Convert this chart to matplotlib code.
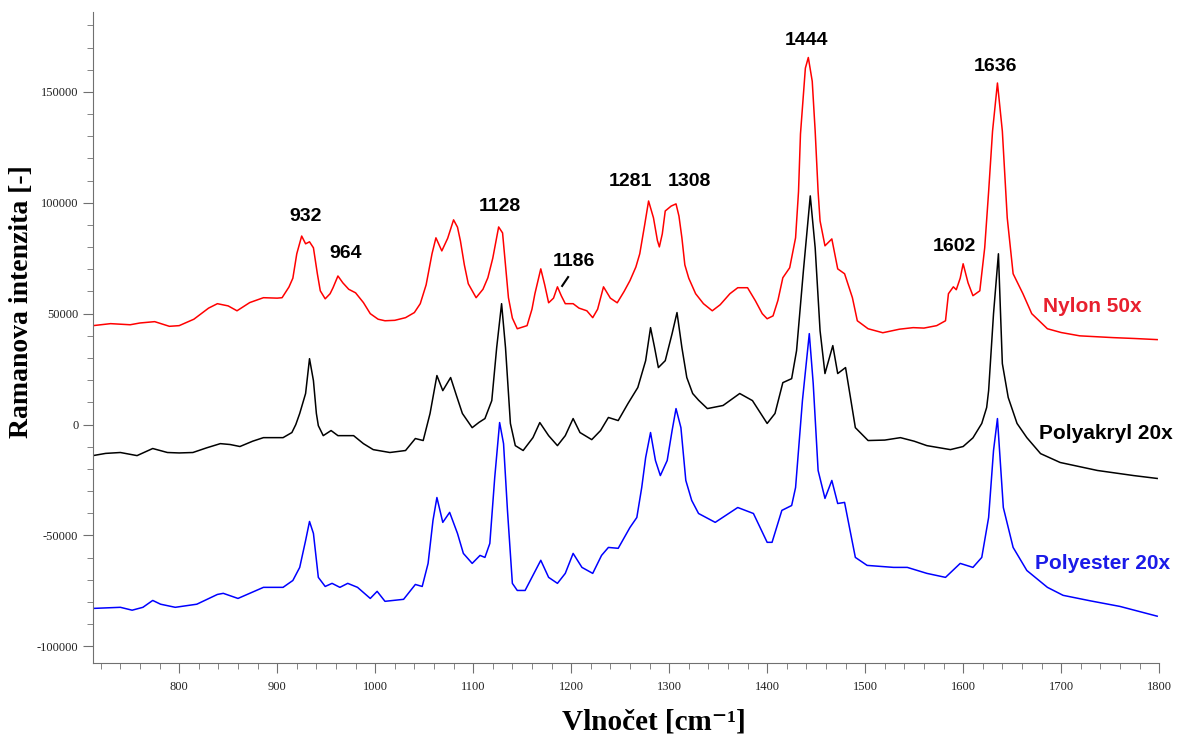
import matplotlib
matplotlib.use('Agg')
import matplotlib.pyplot as plt
from matplotlib.ticker import MultipleLocator

# wavenumber / intensity pairs
nylon_wn = [712, 730, 750, 760, 775, 790, 800, 815, 830, 839, 850, 859, 872, 886, 900, 905,
            912, 916, 920, 925, 929, 933, 937, 941, 944, 949, 954, 957, 962, 967, 973, 980,
            988, 995, 1003, 1010, 1020, 1031, 1040, 1046, 1052, 1058, 1062, 1068, 1074, 1080,
            1084, 1087, 1091, 1095, 1103, 1110, 1115, 1120, 1126, 1130, 1133, 1136, 1140, 1145,
            1155, 1160, 1163, 1169, 1173, 1177, 1182, 1186, 1190, 1194, 1202, 1208, 1216, 1222,
            1227, 1233, 1240, 1247, 1254, 1260, 1266, 1270, 1275, 1279, 1284, 1288, 1290, 1293,
            1296, 1302, 1307, 1310, 1313, 1316, 1320, 1327, 1335, 1344, 1352, 1362, 1370, 1380,
            1388, 1395, 1400, 1406, 1411, 1416, 1423, 1429, 1432, 1434, 1439, 1442, 1446, 1449,
            1452, 1454, 1459, 1466, 1472, 1479, 1487, 1492, 1503, 1518, 1535, 1549, 1560, 1573,
            1582, 1585, 1590, 1593, 1597, 1600, 1605, 1610, 1617, 1622, 1626, 1630, 1635, 1640,
            1645, 1651, 1661, 1670, 1686, 1700, 1719, 1753, 1775, 1798]
nylon_int = [44600, 45500, 45000, 45800, 46400, 44300, 44600, 47500, 52500, 54500, 53500, 51300,
             55000, 57200, 57000, 57200, 62000, 66000, 77000, 85000, 81500, 82400, 79700, 68000,
             60300, 56700, 59000, 61700, 67000, 63900, 61000, 59400, 55000, 50000, 47500, 46800,
             47000, 48200, 50500, 54500, 63000, 77000, 84200, 78300, 84000, 92300, 89000, 82800,
             72000, 63500, 57200, 61000, 66200, 75000, 89100, 86400, 72000, 57200, 48000, 43200,
             44600, 52000, 59000, 70200, 63000, 54900, 57000, 62100, 58000, 54500, 54500, 52500,
             51300, 48200, 52000, 62100, 57000, 54900, 60000, 64900, 71000, 77000, 90000, 100800,
             93200, 83000, 80100, 86000, 96300, 98500, 99500, 94000, 84200, 72000, 66000, 59000,
             54500, 51300, 54000, 59000, 61700, 61700, 55800, 50000, 47700, 49000, 56000, 66200,
             70700, 84200, 105000, 131000, 160700, 165500, 154800, 132300, 105000, 91800, 80600,
             83700, 70200, 68000, 57200, 46800, 43200, 41400, 43000, 43700, 43500, 44600, 46800,
             59000, 62100, 60800, 66000, 72500, 63900, 58100, 60300, 79700, 105000, 132300,
             154000, 132300, 93200, 68000, 59000, 50000, 43200, 41500, 40000, 39200, 38800, 38300]

akryl_wn = [712, 725, 740, 757, 773, 788, 800, 814, 828, 842, 852, 862, 875, 886, 906, 915, 919,
            923, 929, 933, 937, 940, 942, 947, 955, 962, 978, 988, 998, 1015, 1031, 1041, 1049,
            1056, 1063, 1069, 1077, 1083, 1089, 1099, 1106, 1112, 1119, 1124, 1129, 1133, 1138,
            1143, 1151, 1161, 1168, 1177, 1186, 1194, 1202, 1209, 1221, 1230, 1238, 1248, 1258,
            1268, 1276, 1281, 1285, 1289, 1296, 1303, 1308, 1313, 1318, 1324, 1330, 1339, 1355,
            1372, 1385, 1400, 1408, 1416, 1425, 1430, 1437, 1444, 1449, 1454, 1459, 1467, 1472,
            1480, 1485, 1490, 1503, 1520, 1536, 1550, 1563, 1587, 1600, 1610, 1619, 1624, 1626,
            1631, 1636, 1638, 1640, 1646, 1655, 1665, 1679, 1699, 1737, 1774, 1798]
akryl_int = [-14000, -13000, -12600, -14000, -10800, -12600, -12800, -12600, -10500, -8600, -9000,
             -9900, -7500, -5900, -5900, -3600, 0, 5000, 14000, 29700, 19800, 5000, -500, -5000,
             -2700, -5000, -5000, -8600, -11300, -12600, -11700, -6300, -7200, 5000, 22100, 15300,
             21200, 13000, 5000, -1400, 1000, 2700, 10800, 34700, 54500, 34700, 500, -9500, -11700,
             -5900, 900, -5000, -9500, -5000, 2700, -3600, -6800, -2700, 3200, 1800, 9500, 16700,
             28800, 43700, 35000, 25700, 28800, 41000, 50500, 34700, 21200, 14000, 11000, 7200,
             8600, 14000, 10800, 500, 5000, 18900, 20700, 33300, 69400, 103100, 79700, 42300,
             23000, 35600, 23000, 25700, 12200, -1400, -7200, -7000, -5900, -7500, -9500, -11300,
             -9900, -6000, 500, 7700, 15300, 50000, 77000, 52000, 27500, 12200, 500, -5900,
             -13100, -17100, -20700, -23000, -24300]

ester_wn = [712, 740, 752, 763, 773, 781, 796, 818, 839, 845, 860, 886, 906, 916, 923, 929, 933,
            937, 942, 949, 956, 964, 972, 982, 995, 1002, 1010, 1029, 1041, 1048, 1054, 1059,
            1063, 1069, 1076, 1084, 1090, 1099, 1107, 1112, 1117, 1122, 1127, 1131, 1135, 1140,
            1145, 1153, 1161, 1169, 1177, 1186, 1194, 1202, 1211, 1222, 1231, 1238, 1248, 1260,
            1267, 1272, 1276, 1281, 1286, 1291, 1298, 1303, 1307, 1312, 1317, 1323, 1330, 1347,
            1370, 1386, 1400, 1405, 1415, 1425, 1429, 1436, 1443, 1447, 1452, 1459, 1466, 1472,
            1479, 1484, 1490, 1502, 1529, 1543, 1563, 1582, 1597, 1610, 1619, 1626, 1631, 1635,
            1641, 1651, 1665, 1686, 1702, 1730, 1760, 1798]
ester_int = [-82900, -82400, -83700, -82400, -79300, -81000, -82400, -81000, -76600, -76100, -78400,
             -73400, -73400, -70300, -64400, -52300, -43700, -49100, -68900, -73000, -71600, -73400,
             -71600, -73400, -78400, -75200, -79700, -78800, -72100, -73000, -62600, -43200, -32900,
             -44100, -39600, -49100, -58100, -62600, -59000, -59900, -53600, -23900, 900, -8600,
             -38700, -71600, -74800, -74800, -68000, -61200, -68900, -71600, -67100, -58100, -64400,
             -67100, -59000, -55400, -55800, -46400, -41900, -28400, -14900, -3600, -16200, -23000,
             -16200, -2700, 7200, -1400, -25200, -34200, -40100, -44100, -37400, -40100, -53100,
             -53100, -38700, -36500, -28400, 10800, 41000, 18500, -20700, -33300, -25200, -35600,
             -35100, -46400, -59900, -63500, -64400, -64400, -67100, -68900, -62600, -64400, -59900,
             -41900, -11700, 2700, -37400, -55400, -65800, -73400, -77000, -79500, -82000, -86400]

peak_labels = ['932', '964', '1128', '1186', '1281', '1308', '1444', '1602', '1636']
sample_names = ['Nylon 50x', 'Polyakryl 20x', 'Polyester 20x']

plt.rcParams['axes.unicode_minus'] = False

fig = plt.figure(figsize=(11.84, 7.43), dpi=100)
ax = fig.add_axes([0.0785, 0.1077, 0.9005, 0.8761])

ax.plot(nylon_wn, nylon_int, color='#ff0000', lw=1.1)
ax.plot(akryl_wn, akryl_int, color='black', lw=1.1)
ax.plot(ester_wn, ester_int, color='#0000ff', lw=1.1)

ax.set_xlim(712, 1800)
ax.set_ylim(-107500, 186000)

for s in ['top', 'right']:
    ax.spines[s].set_visible(False)
for s in ['left', 'bottom']:
    ax.spines[s].set_color('#707070')

ax.xaxis.set_major_locator(MultipleLocator(100))
ax.xaxis.set_minor_locator(MultipleLocator(20))
ax.yaxis.set_major_locator(MultipleLocator(50000))
ax.yaxis.set_minor_locator(MultipleLocator(10000))
ax.tick_params(which='both', color='#707070', labelsize=9, labelcolor='#222222')
ax.tick_params(which='major', length=7)
ax.tick_params(which='minor', length=4)
ax.tick_params(axis='x', pad=6)
for lab in ax.get_xticklabels() + ax.get_yticklabels():
    lab.set_fontfamily('Liberation Serif')

serif = ['Liberation Serif', 'DejaVu Serif']
fig.text(22 / 1184, 1 - 302 / 743, 'Ramanova intenzita [-]', rotation=90,
         ha='center', va='center', fontsize=20, fontweight='bold', family=serif)
fig.text(654 / 1184, 1 - 722 / 743, 'Vlnočet [cm\u207b\u00b9]',
         ha='center', va='center', fontsize=21, fontweight='bold', family=serif)

lab_font = dict(fontsize=14, fontweight='bold', family='Liberation Sans', ha='center', va='center')
ax.text(928.6, 93700, peak_labels[0], **lab_font)
ax.text(970, 77000, peak_labels[1], **lab_font)
ax.text(1127, 98200, peak_labels[2], **lab_font)
ax.text(1203, 73500, peak_labels[3], **lab_font)
ax.plot([1190.8, 1196.9], [62500, 66500], color='black', lw=1.5)
ax.text(1260, 109500, peak_labels[4], **lab_font)
ax.text(1320.4, 109500, peak_labels[5], **lab_font)
ax.text(1439.8, 173000, peak_labels[6], **lab_font)
ax.text(1591, 80200, peak_labels[7], **lab_font)
ax.text(1632.7, 161300, peak_labels[8], **lab_font)

name_font = dict(fontsize=15, fontweight='bold', family='Liberation Sans', ha='left', va='center')
ax.text(1681.6, 53100, sample_names[0], color='#e8202e', **name_font)
ax.text(1677.6, -4050, sample_names[1], color='black', **name_font)
ax.text(1673.5, -62600, sample_names[2], color='#1a1ae8', **name_font)

fig.savefig('out.png', dpi=100)
